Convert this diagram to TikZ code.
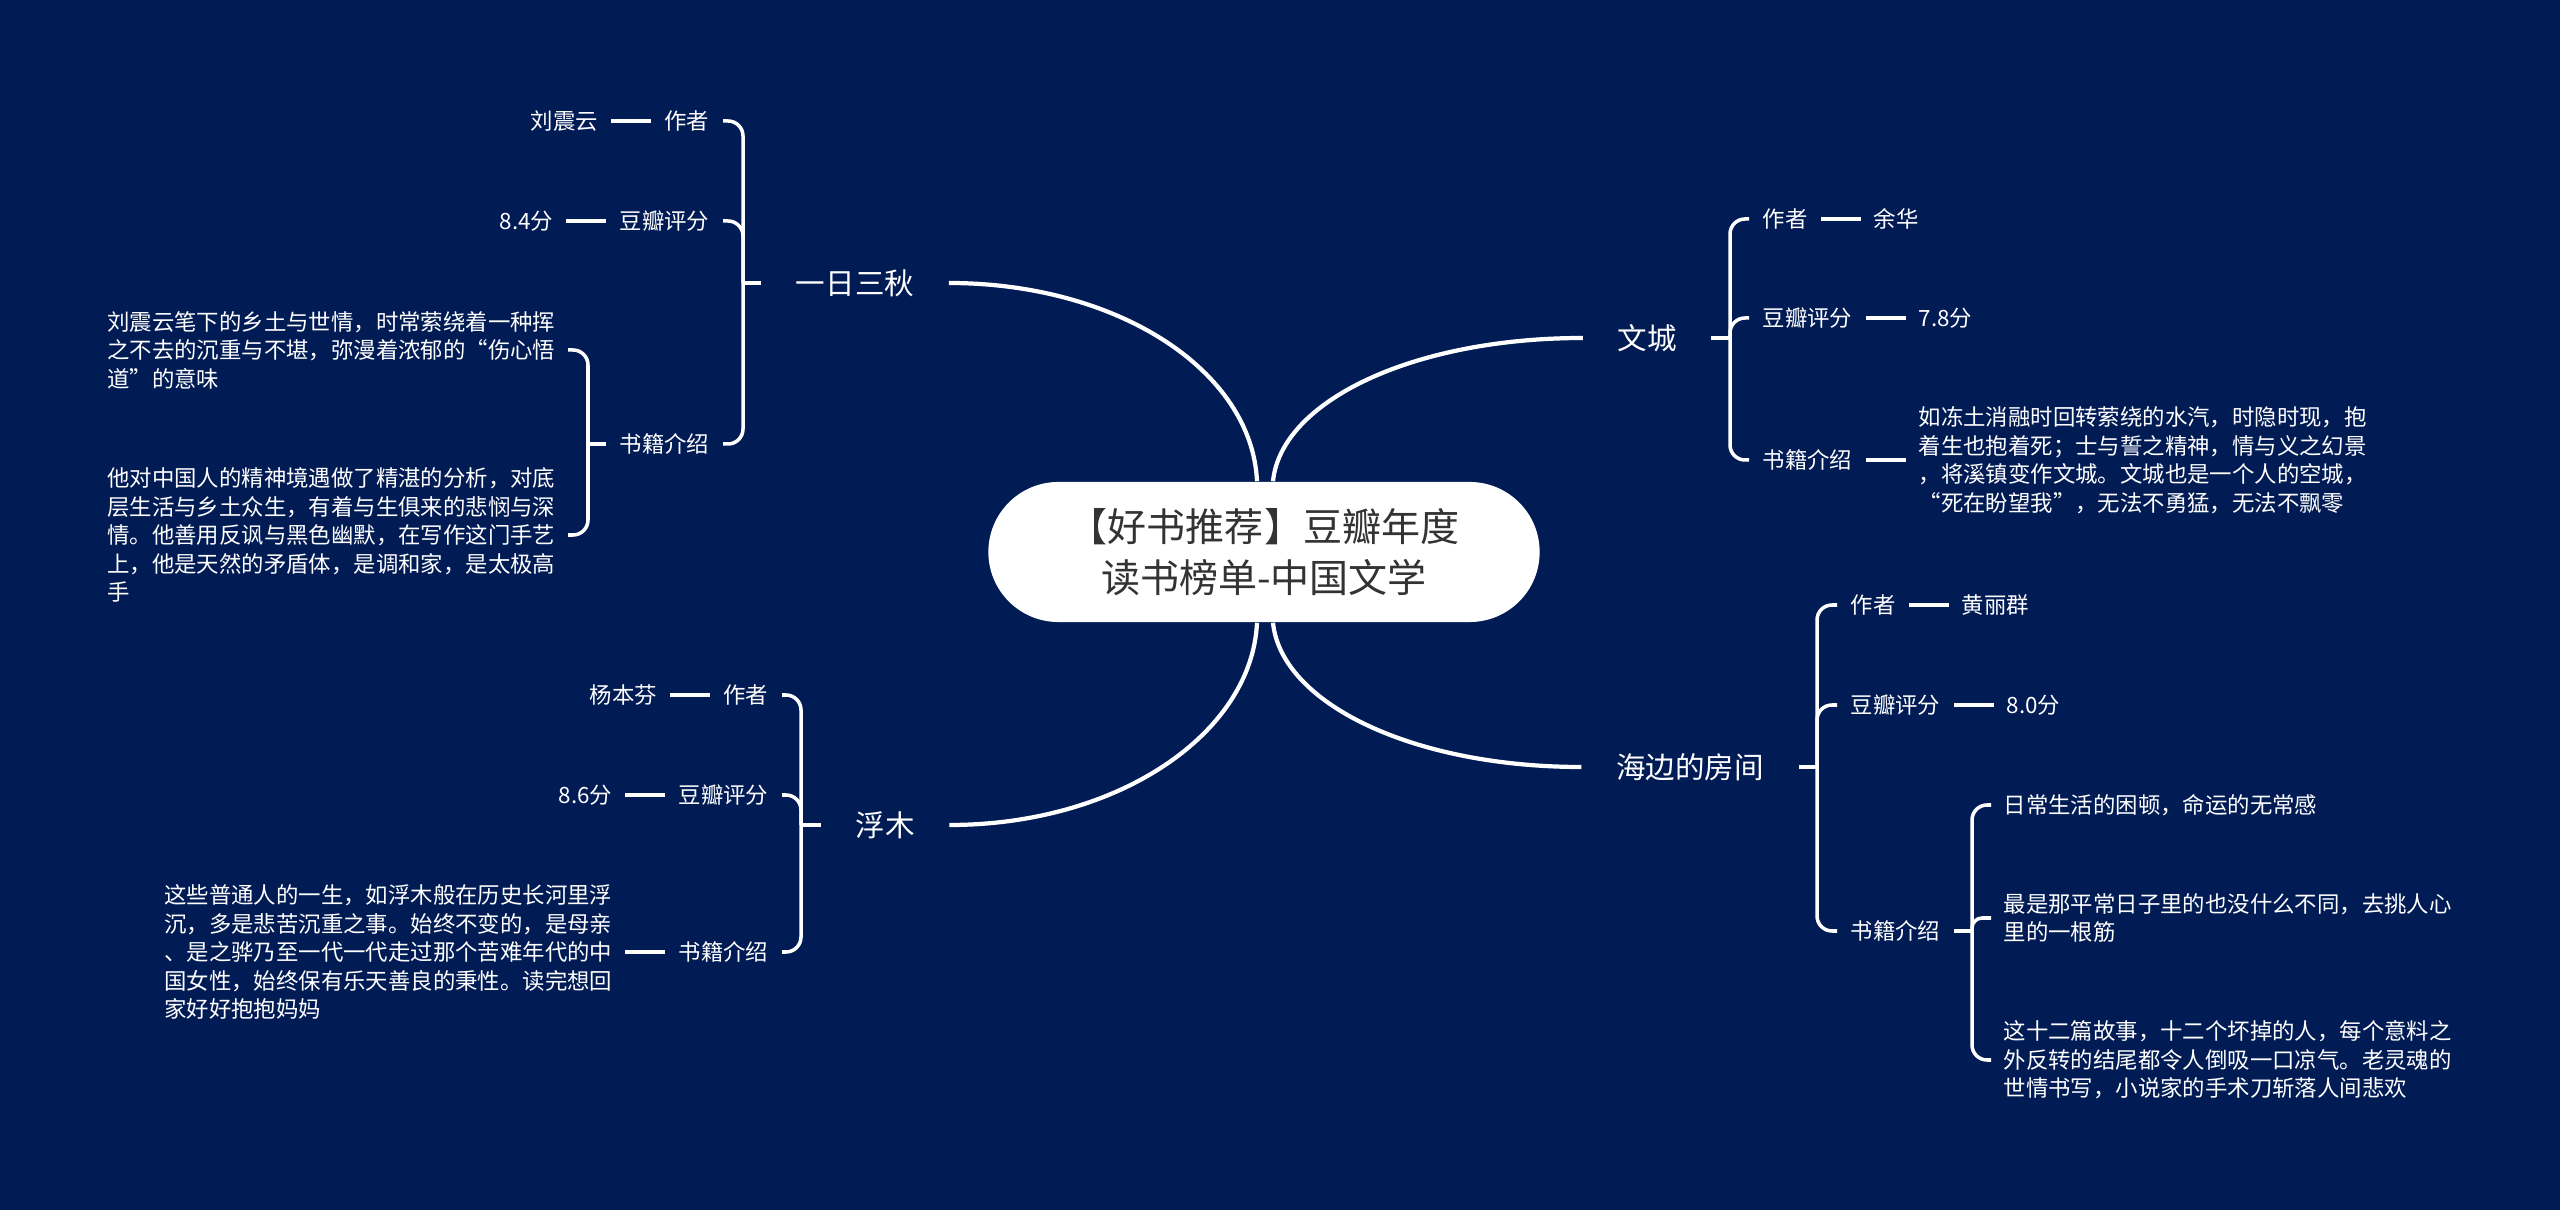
\documentclass[tikz,border=0pt]{standalone}
\usepackage{fontspec}
\setmainfont{Noto Sans CJK SC}
\usetikzlibrary{positioning}
\definecolor{fundo}{RGB}{1,27,84}
\definecolor{zitihui}{RGB}{51,51,51}

\begin{document}
\begin{tikzpicture}[
    x=0.01cm, y=-0.01cm,
    zhuti/.style={
        rectangle,
        rounded corners=0.7cm,
        fill=white,
        text=zitihui,
        align=center,
        minimum width=5.51cm,
        minimum height=1.4cm,
        inner sep=0pt,
        font=\fontsize{11.1pt}{14.5pt}\selectfont
    },
    shuming/.style={
        text=white,
        inner xsep=0.34cm,
        inner ysep=0pt,
        font=\fontsize{8.4pt}{10pt}\selectfont
    },
    xiangmu/.style={
        text=white,
        inner xsep=0.13cm,
        inner ysep=0pt,
        font=\fontsize{6.37pt}{8.1pt}\selectfont
    },
    zhi/.style={xiangmu, inner xsep=0.12cm},
    jieshao/.style={xiangmu, inner xsep=0.12cm, align=left},
    zhixian/.style={draw=white, line width=1.1pt},
    gou/.style={draw=white, line width=1pt, rounded corners=0.15cm},
    fenzhi/.style={draw=white, line width=1.2pt}
]

\fill[fundo] (0,0) rectangle (2560,1210);
\useasboundingbox (0,0) rectangle (2560,1210);

% CENTRO
\node[zhuti] (zhuti) at (1264,552) {【好书推荐】豆瓣年度\\读书榜单-中国文学};

% LIVROS
\node[shuming] (yiri) at (855,283) {一日三秋};
\node[shuming] (fumu) at (885,825) {浮木};
\node[shuming] (wencheng) at (1647,338) {文城};
\node[shuming] (haibian) at (1690,767) {海边的房间};

% --- 一日三秋 ---
\node[xiangmu, anchor=east] (yiri-zz) at (723,121) {作者};
\node[xiangmu, anchor=east] (yiri-pf) at (723,221) {豆瓣评分};
\node[xiangmu, anchor=east] (yiri-js) at (723,444) {书籍介绍};
\node[zhi, left=0.4cm of yiri-zz] (yiri-zz-v) {刘震云};
\node[zhi, left=0.4cm of yiri-pf] (yiri-pf-v) {8.4分};
\node[jieshao, anchor=east] (yiri-js-a) at (568,350) {刘震云笔下的乡土与世情，时常萦绕着一种挥\\之不去的沉重与不堪，弥漫着浓郁的“伤心悟\\道”的意味};
\node[jieshao, anchor=east] (yiri-js-b) at (568,535) {他对中国人的精神境遇做了精湛的分析，对底\\层生活与乡土众生，有着与生俱来的悲悯与深\\情。他善用反讽与黑色幽默，在写作这门手艺\\上，他是天然的矛盾体，是调和家，是太极高\\手};

% --- 浮木 ---
\node[xiangmu, anchor=east] (fumu-zz) at (782,695) {作者};
\node[xiangmu, anchor=east] (fumu-pf) at (782,795) {豆瓣评分};
\node[xiangmu, anchor=east] (fumu-js) at (782,952) {书籍介绍};
\node[zhi, left=0.4cm of fumu-zz] (fumu-zz-v) {杨本芬};
\node[zhi, left=0.4cm of fumu-pf] (fumu-pf-v) {8.6分};
\node[jieshao, left=0.4cm of fumu-js] (fumu-js-a) {这些普通人的一生，如浮木般在历史长河里浮\\沉，多是悲苦沉重之事。始终不变的，是母亲\\、是之骅乃至一代一代走过那个苦难年代的中\\国女性，始终保有乐天善良的秉性。读完想回\\家好好抱抱妈妈};

% --- 文城 ---
\node[xiangmu, anchor=west] (wencheng-zz) at (1749,219) {作者};
\node[xiangmu, anchor=west] (wencheng-pf) at (1749,318) {豆瓣评分};
\node[xiangmu, anchor=west] (wencheng-js) at (1749,460) {书籍介绍};
\node[zhi, right=0.4cm of wencheng-zz] (wencheng-zz-v) {余华};
\node[zhi, right=0.4cm of wencheng-pf] (wencheng-pf-v) {7.8分};
\node[jieshao, right=0.4cm of wencheng-js] (wencheng-js-a) {如冻土消融时回转萦绕的水汽，时隐时现，抱\\着生也抱着死；士与誓之精神，情与义之幻景\\，将溪镇变作文城。文城也是一个人的空城，\\“死在盼望我”，无法不勇猛，无法不飘零};

% --- 海边的房间 ---
\node[xiangmu, anchor=west] (haibian-zz) at (1837,605) {作者};
\node[xiangmu, anchor=west] (haibian-pf) at (1837,705) {豆瓣评分};
\node[xiangmu, anchor=west] (haibian-js) at (1837,931) {书籍介绍};
\node[zhi, right=0.4cm of haibian-zz] (haibian-zz-v) {黄丽群};
\node[zhi, right=0.4cm of haibian-pf] (haibian-pf-v) {8.0分};
\node[jieshao, anchor=west] (haibian-js-a) at (1991,805) {日常生活的困顿，命运的无常感};
\node[jieshao, anchor=west] (haibian-js-b) at (1991,918) {最是那平常日子里的也没什么不同，去挑人心\\里的一根筋};
\node[jieshao, anchor=west] (haibian-js-c) at (1991,1060) {这十二篇故事，十二个坏掉的人，每个意料之\\外反转的结尾都令人倒吸一口凉气。老灵魂的\\世情书写，小说家的手术刀斩落人间悲欢};

% --- CONEXOES DO CENTRO ---
\draw[fenzhi] ([xshift=-0.07cm]zhuti.north) .. controls +(-5,-110) and +(170,0) .. (yiri.east);
\draw[fenzhi] ([xshift=0.09cm]zhuti.north) .. controls +(8,-80) and +(-170,0) .. (wencheng.west);
\draw[fenzhi] ([xshift=-0.07cm]zhuti.south) .. controls +(-5,110) and +(170,0) .. (fumu.east);
\draw[fenzhi] ([xshift=0.09cm]zhuti.south) .. controls +(8,80) and +(-170,0) .. (haibian.west);

% --- CHAVES ---
\coordinate (yiri-j) at (743,283);
\draw[zhixian] (yiri.west) -- (yiri-j);
\draw[gou] (yiri-j) |- (yiri-zz.east);
\draw[gou] (yiri-j) |- (yiri-pf.east);
\draw[gou] (yiri-j) |- (yiri-js.east);
\coordinate (yiri-js-j) at (588,444);
\draw[zhixian] (yiri-js.west) -- (yiri-js-j);
\draw[gou] (yiri-js-j) |- (yiri-js-a.east);
\draw[gou] (yiri-js-j) |- (yiri-js-b.east);

\coordinate (fumu-j) at (801,825);
\draw[zhixian] (fumu.west) -- (fumu-j);
\draw[gou] (fumu-j) |- (fumu-zz.east);
\draw[gou] (fumu-j) |- (fumu-pf.east);
\draw[gou] (fumu-j) |- (fumu-js.east);

\coordinate (wencheng-j) at (1730,338);
\draw[zhixian] (wencheng.east) -- (wencheng-j);
\draw[gou] (wencheng-j) |- (wencheng-zz.west);
\draw[gou] (wencheng-j) |- (wencheng-pf.west);
\draw[gou] (wencheng-j) |- (wencheng-js.west);

\coordinate (haibian-j) at (1817,767);
\draw[zhixian] (haibian.east) -- (haibian-j);
\draw[gou] (haibian-j) |- (haibian-zz.west);
\draw[gou] (haibian-j) |- (haibian-pf.west);
\draw[gou] (haibian-j) |- (haibian-js.west);
\coordinate (haibian-js-j) at (1972,931);
\draw[zhixian] (haibian-js.east) -- (haibian-js-j);
\draw[gou] (haibian-js-j) |- (haibian-js-a.west);
\draw[gou, rounded corners=0.1cm] (haibian-js-j) |- (haibian-js-b.west);
\draw[gou] (haibian-js-j) |- (haibian-js-c.west);

% --- VALORES ---
\draw[zhixian] (yiri-zz) -- (yiri-zz-v);
\draw[zhixian] (yiri-pf) -- (yiri-pf-v);
\draw[zhixian] (fumu-zz) -- (fumu-zz-v);
\draw[zhixian] (fumu-pf) -- (fumu-pf-v);
\draw[zhixian] (fumu-js) -- (fumu-js-a);
\draw[zhixian] (wencheng-zz) -- (wencheng-zz-v);
\draw[zhixian] (wencheng-pf) -- (wencheng-pf-v);
\draw[zhixian] (wencheng-js) -- (wencheng-js-a);
\draw[zhixian] (haibian-zz) -- (haibian-zz-v);
\draw[zhixian] (haibian-pf) -- (haibian-pf-v);

\end{tikzpicture}
\end{document}
